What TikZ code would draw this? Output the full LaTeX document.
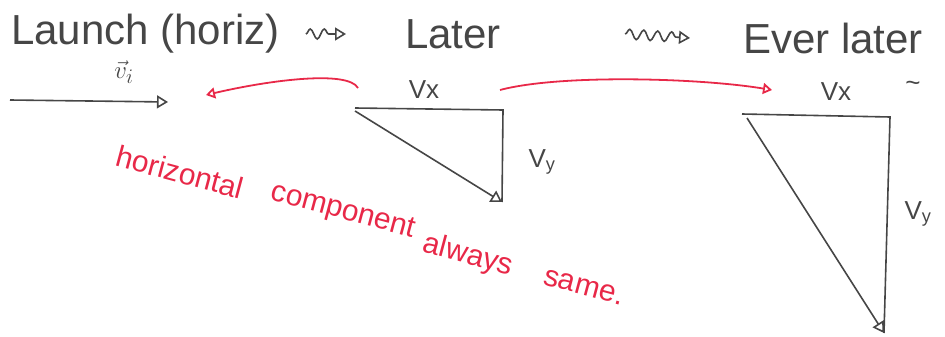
\documentclass[tikz,border=0pt]{standalone}
\usepackage{fontspec}
\setmainfont{Liberation Sans}
\usetikzlibrary{arrows.meta,positioning,decorations.pathmorphing}
\definecolor{pencil}{RGB}{70,70,70}
\definecolor{redpen}{RGB}{232,40,72}
\tikzset{
  ttl/.style={font=\fontsize{42}{46}\selectfont, text=pencil, inner sep=1pt},
  lbl/.style={font=\fontsize{26}{30}\selectfont, text=pencil, inner sep=1pt},
  note/.style={font=\fontsize{30}{34}\selectfont, text=redpen, rotate=-15, inner sep=0pt},
  pen/.style={draw=pencil, line width=1.6pt},
  vecarr/.style={pen, -{Triangle[open, length=11pt, width=13pt]}},
  wavyarr/.style={pen, -{Triangle[open, length=11pt, width=13pt]},
                  decorate, decoration={snake, amplitude=5pt, segment length=14pt, post length=11pt}},
  redarr/.style={draw=redpen, line width=1.8pt, -{Triangle[open, length=9pt, width=11pt]}},
}
\begin{document}
\begin{tikzpicture}[x=1pt, y=-1pt]
  \useasboundingbox (0,0) rectangle (945,337);
  % title row
  \node[ttl, anchor=west] (launch) at (10,34) {Launch (horiz)};
  \node[ttl, anchor=west] (later) at (404,34) {Later};
  \node[ttl, anchor=west] (everlater) at (742,38) {Ever later};
  \draw[wavyarr] ([xshift=25pt]launch.east) -- ([xshift=-58pt]later.west);
  \draw[wavyarr] ([xshift=123pt]later.east) -- ([xshift=-52pt]everlater.west);
  % launch vector
  \coordinate (vs) at (10,100);
  \coordinate (ve) at (168,102);
  \draw[vecarr] (vs) -- (ve);
  \node[font=\fontsize{30}{34}\selectfont, text=pencil] (vi) at (124,72) {$\vec{v}_i$};
  % later triangle
  \coordinate (a1) at (355,108);
  \coordinate (b1) at (503,110);
  \coordinate (c1) at (502,202);
  \draw[pen] (a1) -- (b1) -- (c1);
  \draw[vecarr] ([yshift=-3pt]a1) -- (c1);
  \node[lbl] (vx1) at (424,90) {Vx};
  \node[lbl] (vy1) at (542,162) {V\textsubscript{y}};
  % even later triangle
  \coordinate (a2) at (742,114);
  \coordinate (b2) at (890,117);
  \coordinate (c2) at (884,333);
  \draw[pen] (a2) -- (b2) -- (c2);
  \draw[vecarr] ([xshift=5pt, yshift=-4pt]a2) -- (c2);
  \node[lbl] (vx2) at (836,92) {Vx};
  \node[lbl] (tl) at (913,86) {\textasciitilde};
  \node[lbl] (vy2) at (918,214) {V\textsubscript{y}};
  % red arrows and note
  \coordinate (r1s) at (358,88);
  \coordinate (r1e) at (206,95);
  \coordinate (r2s) at (500,90);
  \coordinate (r2e) at (772,90);
  \draw[redarr] (r1s) .. controls (348,70) and (270,80) .. (r1e);
  \draw[redarr] (r2s) .. controls (560,74) and (700,78) .. (r2e);
  \node[note] (nh) at (180,172) {horizontal};
  \node[note] (nc) at (343,212) {component};
  \node[note] (na) at (468,256) {always};
  \node[note] (ns) at (584,287) {same.};
\end{tikzpicture}
\end{document}
